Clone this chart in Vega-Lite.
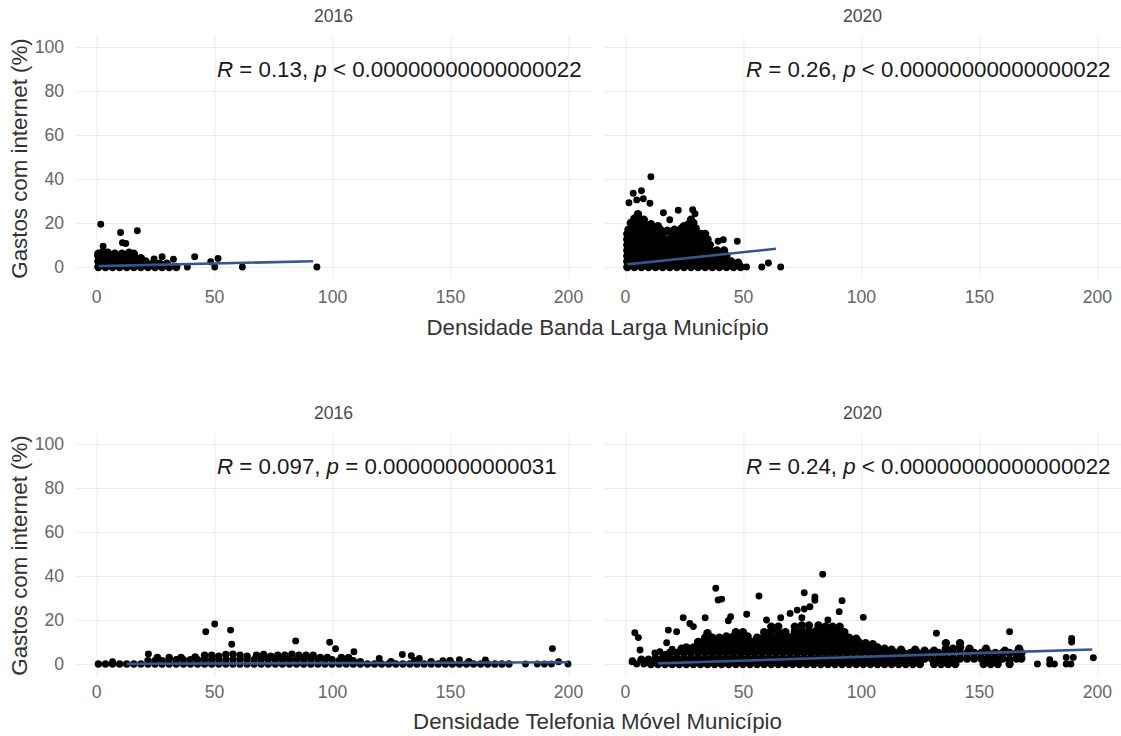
{"$schema":"https://vega.github.io/schema/vega-lite/v6.json","background":"white","padding":{"left":7.5,"top":8,"right":0,"bottom":0},"bounds":"flush","spacing":397,"config":{"view":{"stroke":null},"font":"Liberation Sans","title":{"font":"Liberation Sans","fontSize":17.6,"fontWeight":"normal","color":"#4a4a4a","offset":10},"axis":{"labelFont":"Liberation Sans","titleFont":"Liberation Sans","labelFontSize":17.6,"labelColor":"#666666","titleFontSize":22.3,"titleFontWeight":"normal","titleColor":"#333333","grid":true,"gridColor":"#ebebeb","gridWidth":1,"domain":false,"ticks":false}},
"datasets":{
"lines":[{"panel":"a","x":1,"y":0.4},{"panel":"a","x":92,"y":2.6},{"panel":"b","x":1,"y":1.2},{"panel":"b","x":64,"y":8.3},{"panel":"c","x":13,"y":0.1},{"panel":"c","x":200,"y":0.8},{"panel":"d","x":14,"y":0.3},{"panel":"d","x":198,"y":6.6}],
"labels":[
{"panel":"a","x":51.3,"y":89.5,"label":"R","style":"italic"},{"panel":"a","x":60.7,"y":89.5,"label":"= 0.13,","style":"normal"},{"panel":"a","x":92.5,"y":89.5,"label":"p","style":"italic"},{"panel":"a","x":100.4,"y":89.5,"label":"< 0.00000000000000022","style":"normal"},
{"panel":"b","x":51.3,"y":89.5,"label":"R","style":"italic"},{"panel":"b","x":60.7,"y":89.5,"label":"= 0.26,","style":"normal"},{"panel":"b","x":92.5,"y":89.5,"label":"p","style":"italic"},{"panel":"b","x":100.4,"y":89.5,"label":"< 0.00000000000000022","style":"normal"},
{"panel":"c","x":51.3,"y":89.5,"label":"R","style":"italic"},{"panel":"c","x":60.7,"y":89.5,"label":"= 0.097,","style":"normal"},{"panel":"c","x":97.7,"y":89.5,"label":"p","style":"italic"},{"panel":"c","x":105.6,"y":89.5,"label":"= 0.00000000000031","style":"normal"},
{"panel":"d","x":51.3,"y":89.5,"label":"R","style":"italic"},{"panel":"d","x":60.7,"y":89.5,"label":"= 0.24,","style":"normal"},{"panel":"d","x":92.5,"y":89.5,"label":"p","style":"italic"},{"panel":"d","x":100.4,"y":89.5,"label":"< 0.00000000000000022","style":"normal"}],
"ptsA":[{"x":2,"y":19.4},{"x":10.4,"y":15.7},{"x":17.5,"y":16.5},{"x":11.2,"y":11},{"x":12.6,"y":10.7},{"x":3,"y":9.5},{"x":41.8,"y":4.7},{"x":51.7,"y":3.9},{"x":50.3,"y":0},{"x":48.6,"y":2.4},{"x":62,"y":0},{"x":93.6,"y":0},{"x":38.7,"y":0},{"x":28,"y":4.7},{"x":24.6,"y":3.6},{"x":32.8,"y":3.5}],
"massA":[{"x":1,"y":0},{"x":4,"y":0},{"x":7,"y":0},{"x":10,"y":0},{"x":13,"y":0},{"x":16,"y":0},{"x":19,"y":0},{"x":22,"y":0},{"x":25,"y":0},{"x":28,"y":0},{"x":31,"y":0},{"x":34,"y":0},
{"x":1,"y":2.5},{"x":3,"y":2.5},{"x":6,"y":2.5},{"x":9,"y":2.5},{"x":12,"y":2.5},{"x":15,"y":2.5},{"x":18,"y":2.5},{"x":21,"y":2.5},{"x":24,"y":1.5},{"x":27,"y":1.5},{"x":30,"y":1.5},
{"x":1,"y":5},{"x":4,"y":5},{"x":7,"y":5},{"x":10,"y":5},{"x":13,"y":5},{"x":16,"y":5},{"x":19,"y":4},
{"x":1,"y":6},{"x":3,"y":7},{"x":5,"y":6.5},{"x":8,"y":6},{"x":11,"y":6},{"x":14,"y":6.5},{"x":16,"y":6}],
"ptsB":[{"x":11,"y":41},{"x":7,"y":34.7},{"x":3.5,"y":33.5},{"x":1.7,"y":29.2},{"x":5,"y":30.5},{"x":10.6,"y":29},{"x":7.8,"y":31},{"x":16.3,"y":24.7},{"x":22.6,"y":25.8},{"x":28.7,"y":26},{"x":29.7,"y":24.2},{"x":19,"y":21.5},{"x":47.6,"y":11.7},{"x":41.7,"y":12.4},{"x":39.5,"y":11.7},{"x":58,"y":0},{"x":60.8,"y":1.8},{"x":66,"y":0},{"x":51.5,"y":0}],
"massB":[{"x":1,"y":0},{"x":4,"y":0},{"x":7,"y":0},{"x":10,"y":0},{"x":13,"y":0},{"x":16,"y":0},{"x":19,"y":0},{"x":22,"y":0},{"x":25,"y":0},{"x":28,"y":0},{"x":31,"y":0},{"x":34,"y":0},{"x":37,"y":0},{"x":40,"y":0},{"x":43,"y":0},{"x":46,"y":0},{"x":49,"y":0},
{"x":1,"y":2.5},{"x":3,"y":2.5},{"x":6,"y":2.5},{"x":9,"y":2.5},{"x":12,"y":2.5},{"x":15,"y":2.5},{"x":18,"y":2.5},{"x":21,"y":2.5},{"x":24,"y":2.5},{"x":27,"y":2.5},{"x":30,"y":2.5},{"x":33,"y":2.5},{"x":36,"y":2.5},{"x":39,"y":2.5},{"x":42,"y":2.5},{"x":45,"y":2.5},{"x":48,"y":2},
{"x":1,"y":5},{"x":4,"y":5},{"x":7,"y":5},{"x":10,"y":5},{"x":13,"y":5},{"x":16,"y":5},{"x":19,"y":5},{"x":22,"y":5},{"x":25,"y":5},{"x":28,"y":5},{"x":31,"y":5},{"x":34,"y":5},{"x":37,"y":5},{"x":40,"y":5},{"x":43,"y":5},
{"x":1,"y":7.5},{"x":3,"y":7.5},{"x":6,"y":7.5},{"x":9,"y":7.5},{"x":12,"y":7.5},{"x":15,"y":7.5},{"x":18,"y":7.5},{"x":21,"y":7.5},{"x":24,"y":7.5},{"x":27,"y":7.5},{"x":30,"y":7.5},{"x":33,"y":7.5},{"x":36,"y":7.5},{"x":39,"y":7.5},{"x":42,"y":7.5},
{"x":1,"y":10},{"x":4,"y":10},{"x":7,"y":10},{"x":10,"y":10},{"x":13,"y":10},{"x":16,"y":10},{"x":19,"y":10},{"x":22,"y":10},{"x":25,"y":10},{"x":28,"y":10},{"x":31,"y":10},{"x":34,"y":10},{"x":36,"y":10},
{"x":1,"y":12.5},{"x":3,"y":12.5},{"x":6,"y":12.5},{"x":9,"y":12.5},{"x":12,"y":12.5},{"x":15,"y":12.5},{"x":18,"y":12.5},{"x":21,"y":12.5},{"x":24,"y":12.5},{"x":27,"y":12.5},{"x":30,"y":12.5},{"x":33,"y":12.5},{"x":35,"y":12.5},
{"x":1,"y":15},{"x":4,"y":15},{"x":7,"y":15},{"x":10,"y":15},{"x":13,"y":15},{"x":16,"y":15},{"x":20,"y":15},{"x":23,"y":15},{"x":26,"y":15},{"x":29,"y":15},{"x":32,"y":15},{"x":34,"y":15},
{"x":1.5,"y":17},{"x":3,"y":17.5},{"x":6,"y":17.5},{"x":9,"y":17.5},{"x":12,"y":17.5},{"x":15,"y":17},{"x":18,"y":16.5},{"x":21,"y":17},{"x":24,"y":17.5},{"x":27,"y":17.5},{"x":30,"y":17.5},
{"x":2.5,"y":20},{"x":5,"y":20},{"x":8,"y":20},{"x":11,"y":19.5},{"x":14,"y":18.5},{"x":25,"y":18.5},{"x":27,"y":19.5},{"x":29,"y":20},
{"x":4,"y":22},{"x":6,"y":22},{"x":8,"y":21.5},{"x":28,"y":21.5},{"x":5.5,"y":24}],
"ptsC":[{"x":46.5,"y":14.7},{"x":50.3,"y":18.2},{"x":57,"y":15.4},{"x":84.6,"y":10.5},{"x":99,"y":9.9},{"x":101.5,"y":6.9},{"x":109.3,"y":5.6},{"x":57.5,"y":9},{"x":193.4,"y":7},{"x":22.2,"y":4.6},{"x":129.8,"y":4.3},{"x":133.6,"y":3.8},{"x":7,"y":1},{"x":120,"y":2.5},{"x":137,"y":2.5},{"x":147,"y":1.5},{"x":154,"y":2},{"x":165,"y":1.8},{"x":182,"y":0},{"x":187,"y":0},{"x":190,"y":0},{"x":193,"y":0},{"x":196,"y":1},{"x":200,"y":0}],
"massC":[{"x":1,"y":0},{"x":4,"y":0},{"x":7,"y":0},{"x":10,"y":0},{"x":13,"y":0},{"x":16,"y":0},{"x":19,"y":0},{"x":22,"y":0},{"x":25,"y":0},{"x":28,"y":0},{"x":31,"y":0},{"x":34,"y":0},{"x":37,"y":0},{"x":40,"y":0},{"x":43,"y":0},{"x":46,"y":0},{"x":49,"y":0},{"x":52,"y":0},{"x":55,"y":0},{"x":58,"y":0},{"x":61,"y":0},{"x":64,"y":0},{"x":67,"y":0},{"x":70,"y":0},{"x":73,"y":0},{"x":76,"y":0},{"x":79,"y":0},{"x":82,"y":0},{"x":85,"y":0},{"x":88,"y":0},{"x":91,"y":0},{"x":94,"y":0},{"x":97,"y":0},{"x":100,"y":0},{"x":103,"y":0},{"x":106,"y":0},{"x":109,"y":0},{"x":112,"y":0},{"x":115,"y":0},{"x":118,"y":0},{"x":121,"y":0},{"x":124,"y":0},{"x":127,"y":0},{"x":130,"y":0},{"x":133,"y":0},{"x":136,"y":0},{"x":139,"y":0},{"x":142,"y":0},{"x":145,"y":0},{"x":148,"y":0},{"x":151,"y":0},{"x":154,"y":0},{"x":157,"y":0},{"x":160,"y":0},{"x":163,"y":0},{"x":166,"y":0},{"x":169,"y":0},{"x":172,"y":0},{"x":175,"y":0},
{"x":22,"y":1.5},{"x":25,"y":1.5},{"x":28,"y":1.5},{"x":31,"y":2},{"x":34,"y":2},{"x":37,"y":2},{"x":40,"y":2},{"x":43,"y":2},{"x":46,"y":2},{"x":49,"y":2},{"x":52,"y":2},{"x":55,"y":2},{"x":58,"y":2},{"x":61,"y":2},{"x":64,"y":2},{"x":67,"y":2},{"x":70,"y":2},{"x":73,"y":2},{"x":76,"y":2},{"x":79,"y":2},{"x":82,"y":2},{"x":85,"y":2},{"x":88,"y":2},{"x":91,"y":2},{"x":94,"y":2},{"x":97,"y":2},{"x":100,"y":2},{"x":103,"y":1.5},{"x":106,"y":1.5},{"x":109,"y":1.5},{"x":112,"y":1},{"x":125,"y":1},{"x":135,"y":1.5},{"x":142,"y":1},{"x":150,"y":1.5},{"x":158,"y":1},
{"x":26,"y":3},{"x":31,"y":3},{"x":36,"y":3},{"x":42,"y":3.2},{"x":46,"y":4},{"x":49,"y":4},{"x":52,"y":3.5},{"x":55,"y":4.3},{"x":58,"y":4.5},{"x":61,"y":4},{"x":64,"y":3.5},{"x":68,"y":4},{"x":71,"y":4.3},{"x":74,"y":3.5},{"x":77,"y":4},{"x":80,"y":4},{"x":83,"y":4.5},{"x":86,"y":4},{"x":89,"y":4},{"x":92,"y":4},{"x":95,"y":3},{"x":98,"y":3},{"x":104,"y":3},{"x":107,"y":3}],
"ptsD":[{"x":83.8,"y":40.8},{"x":38.5,"y":34.4},{"x":39.5,"y":29.1},{"x":41,"y":29.5},{"x":56.8,"y":30.9},{"x":76,"y":32.4},{"x":80.5,"y":30.5},{"x":80.5,"y":29},{"x":78.4,"y":26},{"x":92,"y":28.8},{"x":90.8,"y":23.8},{"x":101,"y":21.2},{"x":51.6,"y":22.6},{"x":44.8,"y":21.5},{"x":43.8,"y":19.7},{"x":34,"y":21},{"x":24.7,"y":21},{"x":27.5,"y":18.4},{"x":29,"y":17},{"x":18.4,"y":15.4},{"x":21.9,"y":14.7},{"x":4.2,"y":14.2},{"x":5.7,"y":12},{"x":6.4,"y":6.4},{"x":17.7,"y":9.7},{"x":20,"y":6.7},{"x":12.7,"y":5},{"x":14.8,"y":5.6},{"x":3.2,"y":1.5},{"x":132,"y":14},{"x":163,"y":14.7},{"x":189.3,"y":11.6},{"x":189.3,"y":10},{"x":198.5,"y":2.8},{"x":60,"y":20},{"x":66,"y":21},{"x":70,"y":23},{"x":73,"y":24.5},{"x":76,"y":25},{"x":75,"y":21},{"x":86,"y":20},{"x":174.8,"y":0},{"x":180,"y":0},{"x":182,"y":0},{"x":187,"y":0},{"x":189,"y":0},{"x":180,"y":2},{"x":187,"y":3},{"x":190,"y":3},{"x":5,"y":0},{"x":8,"y":0},{"x":3,"y":1}],
"massD":[{"x":11,"y":0},{"x":14,"y":0},{"x":17,"y":0},{"x":20,"y":0},{"x":23,"y":0},{"x":26,"y":0},{"x":29,"y":0},{"x":32,"y":0},{"x":35,"y":0},{"x":38,"y":0},{"x":41,"y":0},{"x":44,"y":0},{"x":47,"y":0},{"x":50,"y":0},{"x":53,"y":0},{"x":56,"y":0},{"x":59,"y":0},{"x":62,"y":0},{"x":65,"y":0},{"x":68,"y":0},{"x":71,"y":0},{"x":74,"y":0},{"x":77,"y":0},{"x":80,"y":0},{"x":83,"y":0},{"x":86,"y":0},{"x":89,"y":0},{"x":92,"y":0},{"x":95,"y":0},{"x":98,"y":0},{"x":101,"y":0},{"x":104,"y":0},{"x":107,"y":0},{"x":110,"y":0},{"x":113,"y":0},{"x":116,"y":0},{"x":119,"y":0},{"x":122,"y":0},{"x":125,"y":0},{"x":131,"y":0},{"x":134,"y":0},{"x":137,"y":0},{"x":140,"y":0},{"x":152,"y":0},{"x":155,"y":0},{"x":158,"y":0},{"x":163,"y":0},
{"x":7,"y":2},{"x":10,"y":2},{"x":13,"y":2.5},{"x":16,"y":2.5},{"x":19,"y":2.5},{"x":22,"y":2.5},{"x":25,"y":2.5},{"x":28,"y":2.5},{"x":31,"y":2.5},{"x":34,"y":2.5},{"x":37,"y":2.5},{"x":40,"y":2.5},{"x":43,"y":2.5},{"x":46,"y":2.5},{"x":49,"y":2.5},{"x":52,"y":2.5},{"x":55,"y":2.5},{"x":58,"y":2.5},{"x":61,"y":2.5},{"x":64,"y":2.5},{"x":67,"y":2.5},{"x":70,"y":2.5},{"x":73,"y":2.5},{"x":76,"y":2.5},{"x":79,"y":2.5},{"x":82,"y":2.5},{"x":85,"y":2.5},{"x":88,"y":2.5},{"x":91,"y":2.5},{"x":94,"y":2.5},{"x":97,"y":2.5},{"x":100,"y":2.5},{"x":103,"y":2.5},{"x":106,"y":2.5},{"x":109,"y":2.5},{"x":112,"y":2.5},{"x":115,"y":2.5},{"x":118,"y":2.5},{"x":121,"y":2.5},{"x":124,"y":2.5},{"x":127,"y":2.5},{"x":130,"y":2.5},{"x":133,"y":2.5},{"x":136,"y":2.5},{"x":139,"y":2.5},{"x":142,"y":2.5},{"x":145,"y":2.5},{"x":148,"y":2.5},{"x":151,"y":2.5},{"x":154,"y":2.5},{"x":157,"y":2.5},{"x":160,"y":2.5},{"x":163,"y":2},{"x":166,"y":2.5},{"x":168,"y":2.5},
{"x":17,"y":4},{"x":19,"y":5},{"x":22,"y":5},{"x":25,"y":5},{"x":28,"y":5},{"x":31,"y":5},{"x":34,"y":5},{"x":37,"y":5},{"x":40,"y":5},{"x":43,"y":5},{"x":46,"y":5},{"x":49,"y":5},{"x":52,"y":5},{"x":55,"y":5},{"x":58,"y":5},{"x":61,"y":5},{"x":64,"y":5},{"x":67,"y":5},{"x":70,"y":5},{"x":73,"y":5},{"x":76,"y":5},{"x":79,"y":5},{"x":82,"y":5},{"x":85,"y":5},{"x":88,"y":5},{"x":91,"y":5},{"x":94,"y":5},{"x":97,"y":5},{"x":100,"y":5},{"x":103,"y":5},{"x":106,"y":5},{"x":109,"y":5},{"x":112,"y":5},{"x":115,"y":5},{"x":118,"y":5},{"x":121,"y":5},{"x":124,"y":5},{"x":127,"y":5},{"x":130,"y":5},{"x":133,"y":5},{"x":136,"y":5},{"x":139,"y":5},{"x":142,"y":5},{"x":145,"y":5},{"x":148,"y":5},{"x":151,"y":5},{"x":154,"y":5},{"x":157,"y":5},{"x":160,"y":5},{"x":163,"y":5},{"x":166,"y":5},{"x":168,"y":5},
{"x":24,"y":7},{"x":26,"y":7.5},{"x":29,"y":7.5},{"x":32,"y":7.5},{"x":35,"y":7.5},{"x":38,"y":7.5},{"x":41,"y":7.5},{"x":44,"y":7.5},{"x":47,"y":7.5},{"x":50,"y":7.5},{"x":53,"y":7.5},{"x":56,"y":7.5},{"x":59,"y":7.5},{"x":62,"y":7.5},{"x":65,"y":7.5},{"x":68,"y":7.5},{"x":71,"y":7.5},{"x":74,"y":7.5},{"x":77,"y":7.5},{"x":80,"y":7.5},{"x":83,"y":7.5},{"x":86,"y":7.5},{"x":89,"y":7.5},{"x":92,"y":7.5},{"x":95,"y":7.5},{"x":98,"y":7.5},{"x":101,"y":7.5},{"x":104,"y":7.5},{"x":107,"y":7.5},{"x":110,"y":7},{"x":113,"y":6.5},{"x":117,"y":6.5},{"x":123,"y":6.5},{"x":127,"y":6},{"x":131,"y":6},{"x":136,"y":7},{"x":139,"y":7},{"x":142,"y":7.5},{"x":146,"y":7},{"x":153,"y":7},{"x":167,"y":7},{"x":161,"y":6},
{"x":31,"y":10},{"x":33,"y":10},{"x":36,"y":10},{"x":39,"y":10},{"x":42,"y":10},{"x":45,"y":10},{"x":48,"y":10},{"x":51,"y":10},{"x":54,"y":10},{"x":57,"y":10},{"x":60,"y":10},{"x":63,"y":10},{"x":66,"y":10},{"x":69,"y":10},{"x":72,"y":10},{"x":75,"y":10},{"x":78,"y":10},{"x":81,"y":10},{"x":84,"y":10},{"x":87,"y":10},{"x":90,"y":10},{"x":93,"y":10},{"x":96,"y":10},{"x":99,"y":10},{"x":102,"y":9.5},{"x":105,"y":9},{"x":136,"y":9.5},{"x":142,"y":9.5},
{"x":34,"y":12},{"x":37,"y":12},{"x":40,"y":12},{"x":43,"y":12.5},{"x":46,"y":12.5},{"x":49,"y":12.5},{"x":52,"y":12.5},{"x":56,"y":12},{"x":59,"y":12.5},{"x":62,"y":12.5},{"x":65,"y":12.5},{"x":68,"y":12.5},{"x":71,"y":12.5},{"x":74,"y":12.5},{"x":77,"y":12.5},{"x":80,"y":12.5},{"x":83,"y":12.5},{"x":86,"y":12.5},{"x":89,"y":12.5},{"x":92,"y":12.5},{"x":95,"y":12},{"x":98,"y":11.5},
{"x":35,"y":14},{"x":47,"y":14.5},{"x":50,"y":14.5},{"x":59,"y":14.5},{"x":62,"y":15},{"x":65,"y":14.5},{"x":68,"y":14.5},{"x":72,"y":15},{"x":75,"y":15},{"x":78,"y":15},{"x":81,"y":15},{"x":84,"y":15},{"x":87,"y":15},{"x":90,"y":15},{"x":93,"y":14.5},
{"x":62,"y":17},{"x":65,"y":17},{"x":72,"y":17},{"x":75,"y":17.5},{"x":78,"y":17.5},{"x":82,"y":17.5},{"x":85,"y":17},{"x":88,"y":17},{"x":91,"y":17}]
},
"vconcat":[
{"bounds":"flush","spacing":11.9,"hconcat":[
{"width":516.1,"height":242,"title":"2016","layer":[
{"data":{"name":"massA"},"mark":{"type":"circle","size":70,"color":"#000000","opacity":1},"encoding":{"x":{"field":"x","type":"quantitative","scale":{"domain":[-8.7,210],"nice":false},"axis":{"values":[0,50,100,150,200],"title":"Densidade Banda Larga Município","titleX":521.5,"titleY":49,"titleAlign":"center","titleBaseline":"middle","labelPadding":10}},"y":{"field":"y","type":"quantitative","scale":{"domain":[-5,105],"nice":false},"axis":{"values":[0,20,40,60,80,100],"title":"Gastos com internet (%)","titleX":-56.5,"titleY":122,"titleAlign":"center","titleBaseline":"middle","labelPadding":12}}}},
{"data":{"name":"ptsA"},"mark":{"type":"circle","size":48,"color":"#000000","opacity":1},"encoding":{"x":{"field":"x","type":"quantitative"},"y":{"field":"y","type":"quantitative"}}},
{"data":{"name":"lines"},"transform":[{"filter":"datum.panel=='a'"}],"mark":{"type":"line","color":"#34578f","strokeWidth":2.6},"encoding":{"x":{"field":"x","type":"quantitative"},"y":{"field":"y","type":"quantitative"}}},
{"data":{"name":"labels"},"transform":[{"filter":"datum.panel=='a'&&datum.style=='normal'"}],"mark":{"type":"text","align":"left","baseline":"middle","fontSize":22.3,"font":"Liberation Sans","color":"#1a1a1a"},"encoding":{"x":{"field":"x","type":"quantitative"},"y":{"field":"y","type":"quantitative"},"text":{"field":"label"}}},
{"data":{"name":"labels"},"transform":[{"filter":"datum.panel=='a'&&datum.style=='italic'"}],"mark":{"type":"text","align":"left","baseline":"middle","fontSize":22.3,"fontStyle":"italic","font":"Liberation Sans","color":"#1a1a1a"},"encoding":{"x":{"field":"x","type":"quantitative"},"y":{"field":"y","type":"quantitative"},"text":{"field":"label"}}}]},
{"width":516.1,"height":242,"title":"2020","layer":[
{"data":{"name":"massB"},"mark":{"type":"circle","size":70,"color":"#000000","opacity":1},"encoding":{"x":{"field":"x","type":"quantitative","scale":{"domain":[-8.7,210],"nice":false},"axis":{"values":[0,50,100,150,200],"title":null,"labelPadding":10}},"y":{"field":"y","type":"quantitative","scale":{"domain":[-5,105],"nice":false},"axis":{"values":[0,20,40,60,80,100],"title":null,"labels":false}}}},
{"data":{"name":"ptsB"},"mark":{"type":"circle","size":48,"color":"#000000","opacity":1},"encoding":{"x":{"field":"x","type":"quantitative"},"y":{"field":"y","type":"quantitative"}}},
{"data":{"name":"lines"},"transform":[{"filter":"datum.panel=='b'"}],"mark":{"type":"line","color":"#34578f","strokeWidth":2.6},"encoding":{"x":{"field":"x","type":"quantitative"},"y":{"field":"y","type":"quantitative"}}},
{"data":{"name":"labels"},"transform":[{"filter":"datum.panel=='b'&&datum.style=='normal'"}],"mark":{"type":"text","align":"left","baseline":"middle","fontSize":22.3,"font":"Liberation Sans","color":"#1a1a1a"},"encoding":{"x":{"field":"x","type":"quantitative"},"y":{"field":"y","type":"quantitative"},"text":{"field":"label"}}},
{"data":{"name":"labels"},"transform":[{"filter":"datum.panel=='b'&&datum.style=='italic'"}],"mark":{"type":"text","align":"left","baseline":"middle","fontSize":22.3,"fontStyle":"italic","font":"Liberation Sans","color":"#1a1a1a"},"encoding":{"x":{"field":"x","type":"quantitative"},"y":{"field":"y","type":"quantitative"},"text":{"field":"label"}}}]}]},
{"bounds":"flush","spacing":11.9,"hconcat":[
{"width":516.1,"height":242,"title":"2016","layer":[
{"data":{"name":"massC"},"mark":{"type":"circle","size":55,"color":"#000000","opacity":1},"encoding":{"x":{"field":"x","type":"quantitative","scale":{"domain":[-8.7,210],"nice":false},"axis":{"values":[0,50,100,150,200],"title":"Densidade Telefonia Móvel Município","titleX":521.5,"titleY":46,"titleAlign":"center","titleBaseline":"middle","labelPadding":8}},"y":{"field":"y","type":"quantitative","scale":{"domain":[-5,105],"nice":false},"axis":{"values":[0,20,40,60,80,100],"title":"Gastos com internet (%)","titleX":-56.5,"titleY":122,"titleAlign":"center","titleBaseline":"middle","labelPadding":12}}}},
{"data":{"name":"ptsC"},"mark":{"type":"circle","size":48,"color":"#000000","opacity":1},"encoding":{"x":{"field":"x","type":"quantitative"},"y":{"field":"y","type":"quantitative"}}},
{"data":{"name":"lines"},"transform":[{"filter":"datum.panel=='c'"}],"mark":{"type":"line","color":"#34578f","strokeWidth":2.6},"encoding":{"x":{"field":"x","type":"quantitative"},"y":{"field":"y","type":"quantitative"}}},
{"data":{"name":"labels"},"transform":[{"filter":"datum.panel=='c'&&datum.style=='normal'"}],"mark":{"type":"text","align":"left","baseline":"middle","fontSize":22.3,"font":"Liberation Sans","color":"#1a1a1a"},"encoding":{"x":{"field":"x","type":"quantitative"},"y":{"field":"y","type":"quantitative"},"text":{"field":"label"}}},
{"data":{"name":"labels"},"transform":[{"filter":"datum.panel=='c'&&datum.style=='italic'"}],"mark":{"type":"text","align":"left","baseline":"middle","fontSize":22.3,"fontStyle":"italic","font":"Liberation Sans","color":"#1a1a1a"},"encoding":{"x":{"field":"x","type":"quantitative"},"y":{"field":"y","type":"quantitative"},"text":{"field":"label"}}}]},
{"width":516.1,"height":242,"title":"2020","layer":[
{"data":{"name":"massD"},"mark":{"type":"circle","size":70,"color":"#000000","opacity":1},"encoding":{"x":{"field":"x","type":"quantitative","scale":{"domain":[-8.7,210],"nice":false},"axis":{"values":[0,50,100,150,200],"title":null,"labelPadding":8}},"y":{"field":"y","type":"quantitative","scale":{"domain":[-5,105],"nice":false},"axis":{"values":[0,20,40,60,80,100],"title":null,"labels":false}}}},
{"data":{"name":"ptsD"},"mark":{"type":"circle","size":48,"color":"#000000","opacity":1},"encoding":{"x":{"field":"x","type":"quantitative"},"y":{"field":"y","type":"quantitative"}}},
{"data":{"name":"lines"},"transform":[{"filter":"datum.panel=='d'"}],"mark":{"type":"line","color":"#34578f","strokeWidth":2.6},"encoding":{"x":{"field":"x","type":"quantitative"},"y":{"field":"y","type":"quantitative"}}},
{"data":{"name":"labels"},"transform":[{"filter":"datum.panel=='d'&&datum.style=='normal'"}],"mark":{"type":"text","align":"left","baseline":"middle","fontSize":22.3,"font":"Liberation Sans","color":"#1a1a1a"},"encoding":{"x":{"field":"x","type":"quantitative"},"y":{"field":"y","type":"quantitative"},"text":{"field":"label"}}},
{"data":{"name":"labels"},"transform":[{"filter":"datum.panel=='d'&&datum.style=='italic'"}],"mark":{"type":"text","align":"left","baseline":"middle","fontSize":22.3,"fontStyle":"italic","font":"Liberation Sans","color":"#1a1a1a"},"encoding":{"x":{"field":"x","type":"quantitative"},"y":{"field":"y","type":"quantitative"},"text":{"field":"label"}}}]}]}
]}
